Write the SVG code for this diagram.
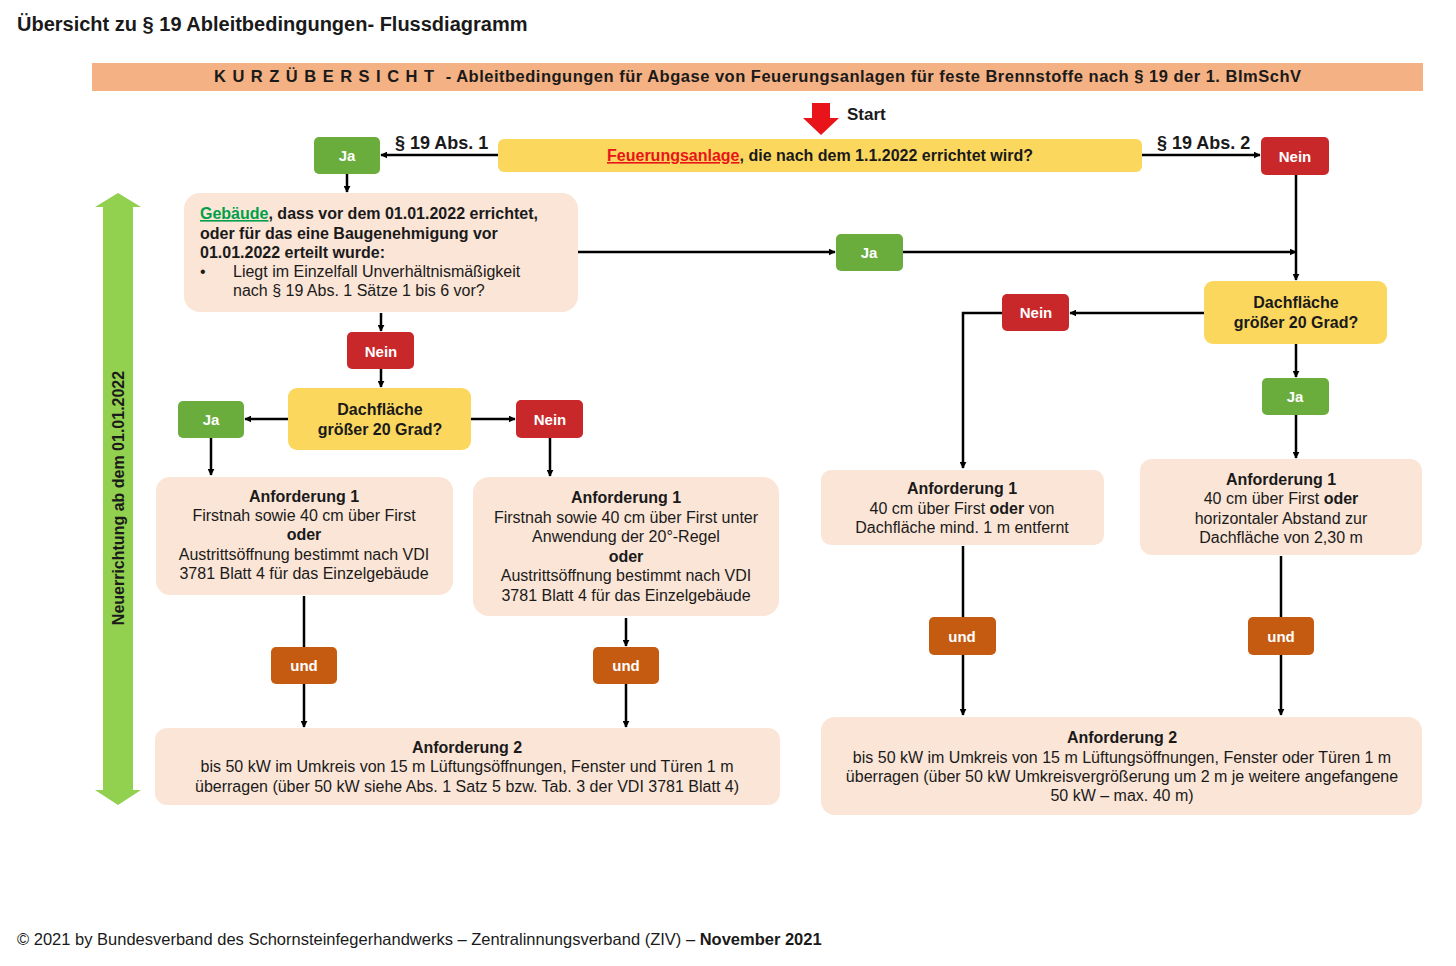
<svg xmlns="http://www.w3.org/2000/svg" width="1456" height="966" viewBox="0 0 1456 966">
<defs>
<marker id="ah" viewBox="0 0 10 10" refX="9" refY="5" markerWidth="7" markerHeight="7" markerUnits="userSpaceOnUse" orient="auto">
<path d="M0,0 L10,5 L0,10 z" fill="#000"/>
</marker>
</defs>
<style>
text{font-family:"Liberation Sans",Arial,sans-serif;fill:#1a1a1a}
.b{font-weight:bold}
.box{fill:#FBE5D6}
.yel{fill:#FCD75E}
.grn{fill:#6AAD3D}
.red{fill:#C9282A}
.und{fill:#C55A11}
.lab{font-size:15px;font-weight:bold;fill:#fff;text-anchor:middle}
.t{font-size:16px;text-anchor:middle}
.c{stroke:#000;stroke-width:2.5;fill:none}
.ca{stroke:#000;stroke-width:2.5;fill:none;marker-end:url(#ah)}
.sec{font-size:18px;font-weight:bold;font-family:"Liberation Sans Narrow","Liberation Sans",sans-serif}
</style>
<rect width="1456" height="966" fill="#fff"/>
<text x="17" y="31" class="b" font-size="20">Übersicht zu § 19 Ableitbedingungen- Flussdiagramm</text>
<g id="banner">
<rect x="92" y="63" width="1331" height="28" fill="#F4B183"/>
<text x="214" y="82" class="b" font-size="16.5" textLength="1087" lengthAdjust="spacing"><tspan letter-spacing="6">KURZÜBERSICHT</tspan>  -  Ableitbedingungen  für Abgase von Feuerungsanlagen für feste Brennstoffe nach § 19 der 1. BImSchV</text>
</g>
<g id="start">
<path d="M812,103 H830 V118 H839 L821,135 L803,118 H812 Z" fill="#E8141A"/>
<text x="847" y="120" class="b" font-size="17">Start</text>
</g>
<g id="side">
<path d="M118,193 L141,207 H133 V790 H141 L118,805 L95,790 H103 V207 H95 Z" fill="#92D050"/>
<text transform="translate(124,498) rotate(-90)" class="b" font-size="16" text-anchor="middle">Neuerrichtung ab dem 01.01.2022</text>
</g>
<g id="connectors">
<path class="ca" d="M498,155 H381"/>
<path class="ca" d="M1142,155 H1260"/>
<path class="ca" d="M347,174 V192"/>
<path class="ca" d="M578,252 H835"/>
<path class="ca" d="M903,252 H1296"/>
<path class="ca" d="M1296,175 V280"/>
<path class="ca" d="M1204,313 H1070"/>
<path class="ca" d="M1002,313 H963 V468"/>
<path class="ca" d="M1296,344 V377"/>
<path class="ca" d="M1296,415 V458"/>
<path class="c" d="M963,546 V617"/>
<path class="ca" d="M963,655 V715"/>
<path class="c" d="M1281,556 V617"/>
<path class="ca" d="M1281,655 V715"/>
<path class="ca" d="M381,313 V331"/>
<path class="ca" d="M381,369 V387"/>
<path class="ca" d="M288,419 H245"/>
<path class="ca" d="M471,419 H515"/>
<path class="ca" d="M211,438 V475"/>
<path class="ca" d="M550,438 V476"/>
<path class="c" d="M304,596 V647"/>
<path class="ca" d="M304,684 V727"/>
<path class="ca" d="M626,618 V646"/>
<path class="ca" d="M626,684 V727"/>
<text x="395" y="149" class="sec">§ 19 Abs. 1</text>
<text x="1157" y="149" class="sec">§ 19 Abs. 2</text>
</g>
<g id="q1">
<rect x="498" y="139" width="644" height="33" rx="6" class="yel"/>
<text x="820" y="161" class="b" font-size="16" text-anchor="middle"><tspan fill="#E8141A" text-decoration="underline">Feuerungsanlage</tspan>, die nach dem 1.1.2022 errichtet wird?</text>
</g>
<g id="ja1"><rect x="314" y="137" width="66" height="37" rx="5" class="grn"/><text x="347" y="161" class="lab">Ja</text></g>
<g id="nein1"><rect x="1261" y="137" width="68" height="38" rx="5" class="red"/><text x="1295" y="162" class="lab">Nein</text></g>
<g id="gebaeude">
<rect x="184" y="193" width="394" height="119" rx="16" class="box"/>
<text x="200" y="219" class="b" font-size="16"><tspan fill="#00A04A" text-decoration="underline">Gebäude</tspan>, dass vor dem 01.01.2022 errichtet,</text>
<text x="200" y="239" class="b" font-size="16">oder für das eine Baugenehmigung vor</text>
<text x="200" y="258" class="b" font-size="16">01.01.2022 erteilt wurde:</text>
<text x="200" y="277" font-size="16">•</text>
<text x="233" y="277" font-size="16">Liegt im Einzelfall  Unverhältnismäßigkeit</text>
<text x="233" y="296" font-size="16">nach § 19 Abs. 1 Sätze 1 bis 6 vor?</text>
</g>
<g id="ja2"><rect x="836" y="234" width="67" height="37" rx="5" class="grn"/><text x="869" y="258" class="lab">Ja</text></g>
<g id="dach2">
<rect x="1204" y="281" width="183" height="63" rx="9" class="yel"/>
<text x="1296" y="308" class="t b">Dachfläche</text>
<text x="1296" y="328" class="t b">größer 20 Grad?</text>
</g>
<g id="nein3"><rect x="1002" y="294" width="67" height="37" rx="5" class="red"/><text x="1036" y="318" class="lab">Nein</text></g>
<g id="ja4"><rect x="1262" y="378" width="67" height="37" rx="5" class="grn"/><text x="1295" y="402" class="lab">Ja</text></g>
<g id="anf1c">
<rect x="821" y="470" width="283" height="75" rx="10" class="box"/>
<text x="962" y="494" class="t b">Anforderung 1</text>
<text x="962" y="514" class="t">40 cm über First <tspan class="b">oder</tspan> von</text>
<text x="962" y="533" class="t">Dachfläche mind.  1 m entfernt</text>
</g>
<g id="anf1d">
<rect x="1140" y="459" width="282" height="96" rx="12" class="box"/>
<text x="1281" y="485" class="t b">Anforderung 1</text>
<text x="1281" y="504" class="t">40 cm über First <tspan class="b">oder</tspan></text>
<text x="1281" y="524" class="t">horizontaler Abstand zur</text>
<text x="1281" y="543" class="t">Dachfläche von 2,30 m</text>
</g>
<g id="und3"><rect x="929" y="617" width="67" height="38" rx="5" class="und"/><text x="962" y="642" class="lab">und</text></g>
<g id="und4"><rect x="1248" y="617" width="66" height="38" rx="5" class="und"/><text x="1281" y="642" class="lab">und</text></g>
<g id="anf2r">
<rect x="821" y="717" width="601" height="98" rx="14" class="box"/>
<text x="1122" y="743" class="t b">Anforderung 2</text>
<text x="1122" y="763" class="t">bis 50 kW im Umkreis von 15 m Lüftungsöffnungen, Fenster oder Türen 1 m</text>
<text x="1122" y="782" class="t">überragen (über 50 kW Umkreisvergrößerung um 2 m je weitere angefangene</text>
<text x="1122" y="801" class="t">50 kW – max. 40 m)</text>
</g>
<g id="nein2"><rect x="347" y="332" width="67" height="37" rx="5" class="red"/><text x="381" y="357" class="lab">Nein</text></g>
<g id="dach1">
<rect x="288" y="388" width="183" height="62" rx="9" class="yel"/>
<text x="380" y="415" class="t b">Dachfläche</text>
<text x="380" y="435" class="t b">größer 20 Grad?</text>
</g>
<g id="ja3"><rect x="178" y="401" width="66" height="37" rx="5" class="grn"/><text x="211" y="425" class="lab">Ja</text></g>
<g id="nein4"><rect x="516" y="400" width="67" height="38" rx="5" class="red"/><text x="550" y="425" class="lab">Nein</text></g>
<g id="anf1a">
<rect x="156" y="477" width="297" height="118" rx="14" class="box"/>
<text x="304" y="502" class="t b">Anforderung 1</text>
<text x="304" y="521" class="t">Firstnah sowie 40 cm über First</text>
<text x="304" y="540" class="t b">oder</text>
<text x="304" y="560" class="t">Austrittsöffnung bestimmt nach VDI</text>
<text x="304" y="579" class="t">3781 Blatt 4 für das Einzelgebäude</text>
</g>
<g id="anf1b">
<rect x="473" y="477" width="306" height="139" rx="16" class="box"/>
<text x="626" y="503" class="t b">Anforderung 1</text>
<text x="626" y="523" class="t">Firstnah sowie 40 cm über First unter</text>
<text x="626" y="542" class="t">Anwendung  der 20°-Regel</text>
<text x="626" y="562" class="t b">oder</text>
<text x="626" y="581" class="t">Austrittsöffnung bestimmt nach VDI</text>
<text x="626" y="601" class="t">3781 Blatt 4 für das Einzelgebäude</text>
</g>
<g id="und1"><rect x="271" y="647" width="66" height="37" rx="5" class="und"/><text x="304" y="671" class="lab">und</text></g>
<g id="und2"><rect x="593" y="647" width="66" height="37" rx="5" class="und"/><text x="626" y="671" class="lab">und</text></g>
<g id="anf2l">
<rect x="155" y="728" width="625" height="77" rx="12" class="box"/>
<text x="467" y="753" class="t b">Anforderung 2</text>
<text x="467" y="772" class="t">bis 50 kW im Umkreis von 15 m Lüftungsöffnungen, Fenster und Türen 1 m</text>
<text x="467" y="792" class="t">überragen (über 50 kW siehe Abs. 1 Satz 5 bzw.  Tab. 3 der VDI 3781 Blatt 4)</text>
</g>
<text x="17" y="945" font-size="16.5">© 2021 by Bundesverband des Schornsteinfegerhandwerks – Zentralinnungsverband (ZIV) – <tspan class="b">November 2021</tspan></text>
</svg>
